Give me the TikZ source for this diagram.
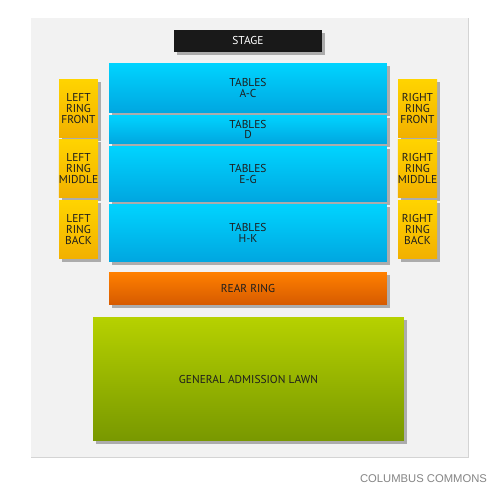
\documentclass[tikz,border=0pt]{standalone}
\usepackage{fontspec}
\setmainfont{PT Sans}
\newfontfamily\venuefont{Liberation Sans}
\usetikzlibrary{shadows}

\definecolor{panelgray}{HTML}{F2F2F2}
\definecolor{paneledge}{HTML}{D4D4D4}
\definecolor{tabletop}{HTML}{00D4FF}
\definecolor{tablebot}{HTML}{00A6E0}
\definecolor{ringtop}{HTML}{FFD400}
\definecolor{ringbot}{HTML}{F2B000}
\definecolor{reartop}{HTML}{FF8000}
\definecolor{rearbot}{HTML}{D65A00}
\definecolor{lawntop}{HTML}{B6D100}
\definecolor{lawnbot}{HTML}{789800}
\definecolor{labeltext}{HTML}{1E1E1E}
\definecolor{venuetext}{HTML}{858585}

\begin{document}
\begin{tikzpicture}[x=0.02cm, y=-0.02cm,
    % Section styles
    section/.style={inner sep=0pt, align=center, text=labeltext,
        font=\fontsize{6.5}{6.1}\selectfont,
        drop shadow={shadow xshift=0.06cm, shadow yshift=-0.06cm, fill=black!55, opacity=0.55}},
    stagebox/.style={section, fill=black!90, text=white, minimum width=2.96cm, minimum height=0.44cm},
    tables/.style={section, top color=tabletop, bottom color=tablebot, minimum width=5.56cm},
    ring/.style={section, top color=ringtop, bottom color=ringbot, minimum width=0.78cm, minimum height=1.18cm},
    rear/.style={section, top color=reartop, bottom color=rearbot, minimum width=5.56cm, minimum height=0.66cm},
    lawn/.style={section, top color=lawntop, bottom color=lawnbot, minimum width=6.22cm, minimum height=2.48cm}
]

% Page and panel
\useasboundingbox (0,0) rectangle (500,500);
\fill[white] (0,0) rectangle (500,500);
\fill[paneledge] (31,18) rectangle (469,458);
\fill[panelgray] (31,18) rectangle (468,457);

% Stage
\node[stagebox] (stage) at (248,41) {STAGE};

% Tables (center)
\node[tables, minimum height=1.00cm] (tablesAC) at (248,88) {TABLES\\A-C};
\node[tables, minimum height=0.58cm] (tablesD) at (248,129.5) {TABLES\\D};
\node[tables, minimum height=1.12cm] (tablesEG) at (248,174) {TABLES\\E-G};
\node[tables, minimum height=1.16cm] (tablesHK) at (248,233) {TABLES\\H-K};

% Left ring
\node[ring] (leftfront) at (78.5,108.5) {LEFT\\RING\\FRONT};
\node[ring] (leftmiddle) at (78.5,168.5) {LEFT\\RING\\MIDDLE};
\node[ring] (leftback) at (78.5,229.5) {LEFT\\RING\\BACK};

% Right ring
\node[ring] (rightfront) at (417.5,108.5) {RIGHT\\RING\\FRONT};
\node[ring] (rightmiddle) at (417.5,168.5) {RIGHT\\RING\\MIDDLE};
\node[ring] (rightback) at (417.5,229.5) {RIGHT\\RING\\BACK};

% Rear ring and lawn
\node[rear] (rearring) at (248,288.5) {REAR RING};
\node[lawn] (galawn) at (248.5,379) {GENERAL ADMISSION LAWN};

% Venue name
\node[font=\venuefont\fontsize{6.4}{7}\selectfont, text=venuetext] (venue) at (423.5,479) {COLUMBUS COMMONS};

\end{tikzpicture}
\end{document}
